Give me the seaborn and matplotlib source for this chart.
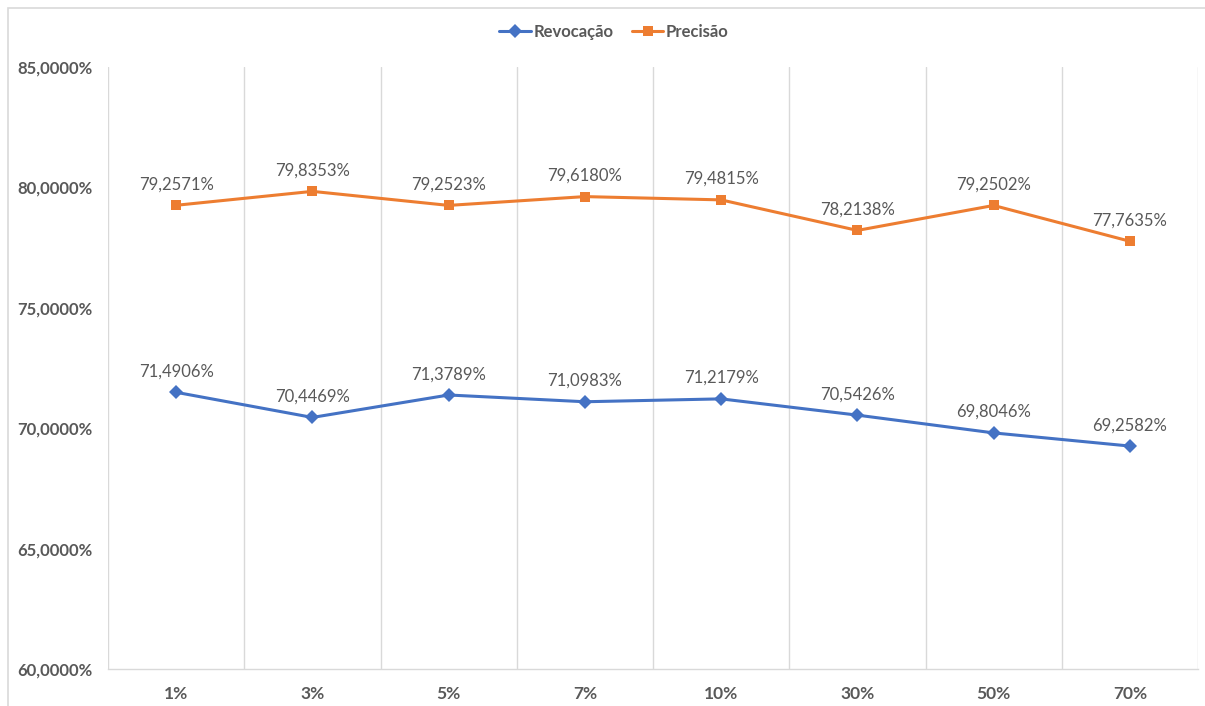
import matplotlib
matplotlib.use("Agg")
import matplotlib.pyplot as plt
import matplotlib.patches as mpatches
from matplotlib.ticker import FixedLocator, FuncFormatter
import seaborn as sns
import pandas as pd

# Sampling rates and the two metrics (in %)
categories = ["1%", "3%", "5%", "7%", "10%", "30%", "50%", "70%"]
revocacao = [71.4906, 70.4469, 71.3789, 71.0983, 71.2179, 70.5426, 69.8046, 69.2582]
precisao = [79.2571, 79.8353, 79.2523, 79.6180, 79.4815, 78.2138, 79.2502, 77.7635]
y_ticks = [60, 65, 70, 75, 80, 85]

blue = "#4472C4"
orange = "#ED7D31"
grey_text = "#595959"
grid_col = "#D9D9D9"

sns.set_theme(style="white")
plt.rcParams["font.family"] = ["Lato", "DejaVu Sans"]

df = pd.DataFrame({
    "pos": list(range(len(categories))) * 2,
    "valor": revocacao + precisao,
    "serie": ["Revocação"] * len(categories) + ["Precisão"] * len(categories),
})

fig = plt.figure(figsize=(12.05, 7.06), dpi=100)
ax = fig.add_axes([108 / 1205, 1 - 669 / 706, (1198 - 108) / 1205, (669 - 67) / 706])

sns.lineplot(
    data=df, x="pos", y="valor", hue="serie", style="serie",
    palette={"Revocação": blue, "Precisão": orange},
    markers={"Revocação": "D", "Precisão": "s"}, dashes=False,
    markersize=7, linewidth=2.2, markeredgewidth=0, ax=ax, sort=False,
)

ax.set_xlim(-0.5, len(categories) - 0.5)
ax.set_ylim(60, 85)

# Vertical gridlines at category boundaries
for b in [i - 0.5 for i in range(len(categories) + 1)]:
    ax.axvline(b, color=grid_col, linewidth=1.0, zorder=0)

ax.set_xticks(range(len(categories)))
ax.set_xticklabels(categories, fontsize=12.5, fontweight="bold", color=grey_text)
ax.yaxis.set_major_locator(FixedLocator(y_ticks))
ax.yaxis.set_major_formatter(FuncFormatter(lambda v, _: f"{v:.4f}".replace(".", ",") + "%"))
for lbl in ax.get_yticklabels():
    lbl.set_fontsize(12)
    lbl.set_fontweight("bold")
    lbl.set_color(grey_text)
ax.tick_params(axis="both", length=0)
ax.tick_params(axis="y", pad=11)
ax.tick_params(axis="x", pad=12)
ax.set_xlabel("")
ax.set_ylabel("")

for side in ["top", "left", "right"]:
    ax.spines[side].set_visible(False)
ax.spines["bottom"].set_color(grid_col)
ax.spines["bottom"].set_linewidth(1.0)

# Data labels above each point
for vals in (revocacao, precisao):
    for i, v in enumerate(vals):
        ax.annotate(f"{v:.4f}".replace(".", ",") + "%", (i, v),
                    xytext=(0, 15), textcoords="offset points",
                    ha="center", va="center", fontsize=12, color=grey_text)

handles, labels = ax.get_legend_handles_labels()
leg = fig.legend(handles, labels, loc="center", bbox_to_anchor=(614 / 1205, 1 - 32 / 706),
                 ncol=2, frameon=False, prop={"size": 12, "weight": "bold"},
                 handlelength=1.9, columnspacing=1.1, handletextpad=0.15)
for t in leg.get_texts():
    t.set_color(grey_text)
ax.get_legend().remove()

# Chart border
fig.patches.append(mpatches.Rectangle((8 / 1205, -0.1), 1.2, 1 - 8 / 706 + 0.1,
                                      transform=fig.transFigure, fill=False,
                                      edgecolor=grid_col, linewidth=1.2))

fig.savefig("out.png", dpi=100)
